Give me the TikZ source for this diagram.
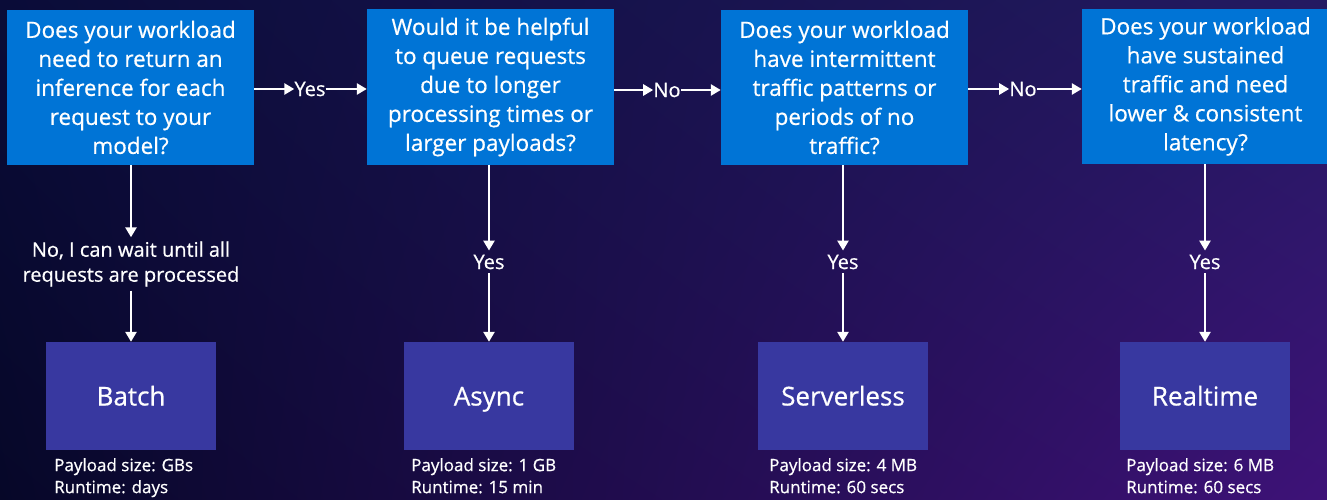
\documentclass[tikz,border=0pt]{standalone}
\usepackage{fontspec}
\setmainfont{Open Sans}[FakeBold=0.6,AutoFakeBold=0.6]
\usetikzlibrary{arrows.meta,shadings}
\definecolor{qblue}{RGB}{0,116,214}
\definecolor{rpurple}{RGB}{56,56,160}
\definecolor{bgUL}{RGB}{10,12,56}
\definecolor{bgUR}{RGB}{36,26,98}
\definecolor{bgLL}{RGB}{6,7,40}
\definecolor{bgLR}{RGB}{62,18,120}
\begin{document}
\begin{tikzpicture}[x=1pt,y=-1pt,
  qbox/.style={fill=qblue,text=white,minimum width=247pt,minimum height=155pt,inner sep=0pt,align=center,font=\fontsize{22.5}{29}\selectfont\bfseries},
  rbox/.style={fill=rpurple,text=white,minimum width=170pt,minimum height=108pt,inner sep=0pt,text height=22pt,text depth=3pt,font=\fontsize{26}{30}\selectfont\bfseries},
  lab/.style={text=white,inner sep=1pt,align=center,font=\fontsize{20}{25}\selectfont\bfseries},
  info/.style={text=white,inner sep=0pt,align=left,anchor=north west,font=\fontsize{17}{22}\selectfont\bfseries},
  arr/.style={white,line width=2.8pt,-{Triangle[length=10pt,width=11pt]}}]
\useasboundingbox (0,0) rectangle (1327,500);
\shade[upper left=bgUL,upper right=bgUR,lower left=bgLL,lower right=bgLR] (0,0) rectangle (1327,500);
\begin{scope}
\clip (0,0) rectangle (1327,500);
\node[qbox] (q1) at (130.5,87.5) {Does your workload\\need to return an\\inference for each\\request to your\\model?};
\node[qbox] (q2) at (490.5,87) {Would it be helpful\\to queue requests\\due to longer\\processing times or\\larger payloads?};
\node[qbox] (q3) at (844.5,87.5) {Does your workload\\have intermittent\\traffic patterns or\\periods of no\\traffic?};
\node[qbox] (q4) at (1205.5,86.5) {Does your workload\\have sustained\\traffic and need\\lower \& consistent\\latency?};
\end{scope}
% horizontal labels
\node[lab,inner sep=0pt] (y12) at (310,89) {Yes};
\node[lab,inner sep=0pt] (n23) at (667,90) {No};
\node[lab,inner sep=0pt] (n34) at (1023,89) {No};
\draw[arr] (q1.east |- y12) -- (y12.west);
\draw[arr] (y12.east) -- (q2.west |- y12);
\draw[arr] (q2.east |- n23) -- (n23.west);
\draw[arr] (n23.east) -- (q3.west |- n23);
\draw[arr] (q3.east |- n34) -- (n34.west);
\draw[arr] (n34.east) -- (q4.west |- n34);
% vertical labels
\node[lab,inner sep=4pt] (l1) at (131,264) {No, I can wait until all\\requests are processed};
\node[lab,inner sep=4pt] (l2) at (489,262) {Yes};
\node[lab,inner sep=4pt] (l3) at (843,262) {Yes};
\node[lab,inner sep=4pt] (l4) at (1205,262) {Yes};
% result boxes
\node[rbox] (r1) at (131,396) {Batch};
\node[rbox] (r2) at (489,396) {Async};
\node[rbox] (r3) at (843,396) {Serverless};
\node[rbox] (r4) at (1205,396) {Realtime};
\draw[arr] (q1.south -| l1) -- (l1.north);
\draw[arr] (l1.south) -- (r1.north);
\draw[arr] (q2.south -| l2) -- (l2.north);
\draw[arr] (l2.south) -- (r2.north);
\draw[arr] (q3.south -| l3) -- (l3.north);
\draw[arr] (l3.south) -- (r3.north);
\draw[arr] (q4.south -| l4) -- (l4.north);
\draw[arr] (l4.south) -- (r4.north);
% info texts
\node[info] (i1) at (54,458) {Payload size: GBs\\Runtime: days};
\node[info] (i2) at (411,458) {Payload size: 1 GB\\Runtime: 15 min};
\node[info] (i3) at (769,458) {Payload size: 4 MB\\Runtime: 60 secs};
\node[info] (i4) at (1126,458) {Payload size: 6 MB\\Runtime: 60 secs};
\end{tikzpicture}
\end{document}
